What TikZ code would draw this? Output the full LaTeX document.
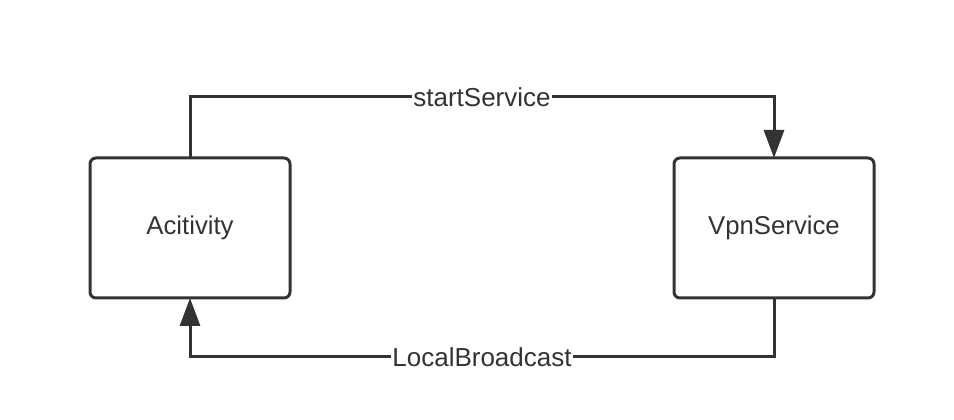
\documentclass[tikz,border=0pt]{standalone}
\usepackage{fontspec}
\setmainfont{Liberation Sans}
\usetikzlibrary{arrows.meta}
\definecolor{ink}{HTML}{333333}
\begin{document}
\begin{tikzpicture}[x=0.75pt,y=-0.75pt,
  box/.style={draw=ink, line width=2.25pt, rounded corners=4.5pt, minimum width=150pt, minimum height=105pt, inner sep=0pt, outer sep=0pt, text=ink, font=\fontsize{19.3pt}{23pt}\selectfont},
  conn/.style={draw=ink, line width=2.25pt, -{Triangle[length=21pt,width=15pt]}},
  lbl/.style={fill=white, text=ink, inner sep=1pt, font=\fontsize{19.5pt}{23pt}\selectfont}]
\useasboundingbox (0,0) rectangle (954,420);
\node[box] (a) at (190,228) {Acitivity};
\node[box] (b) at (774,228) {VpnService};
\coordinate (t) at (0,97);
\coordinate (u) at (0,357);
\draw[conn] (a.north) -- (a.north |- t) -- node[lbl]{startService} (b.north |- t) -- (b.north);
\draw[conn] (b.south) -- (b.south |- u) -- node[lbl]{LocalBroadcast} (a.south |- u) -- (a.south);
\end{tikzpicture}
\end{document}
